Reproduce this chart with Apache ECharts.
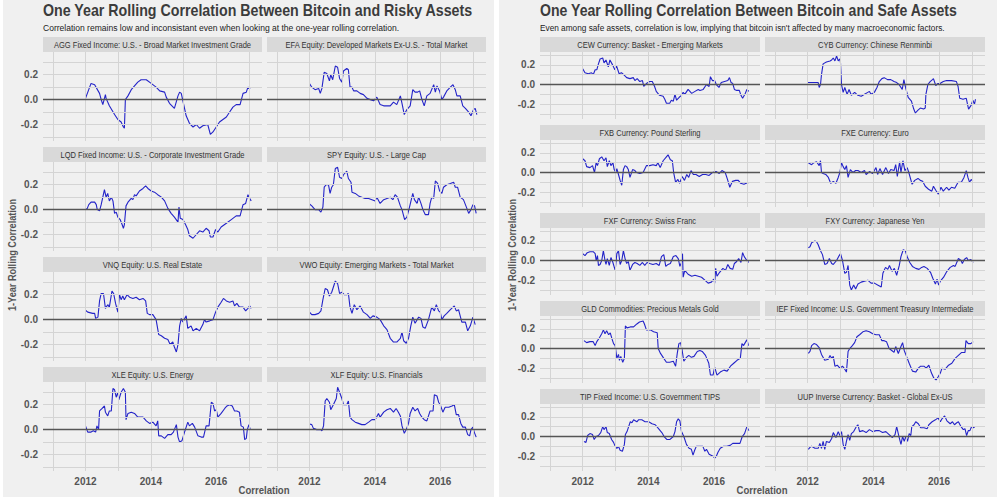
<!DOCTYPE html>
<html><head><meta charset="utf-8">
<script src="https://cdn.jsdelivr.net/npm/echarts@6/dist/echarts.min.js"></script>
<style>html,body{margin:0;padding:0;background:#fff}#c{width:1000px;height:501px}</style>
</head><body><div id="c"></div>
<script>
// ---------- DATA ----------
const riskyTitles = [
  'AGG Fixed Income: U.S. - Broad Market Investment Grade',
  'EFA Equity: Developed Markets Ex-U.S. - Total Market',
  'LQD Fixed Income: U.S. - Corporate Investment Grade',
  'SPY Equity: U.S. - Large Cap',
  'VNQ Equity: U.S. Real Estate',
  'VWO Equity: Emerging Markets - Total Market',
  'XLE Equity: U.S. Energy',
  'XLF Equity: U.S. Financials'
];
const safeTitles = [
  'CEW Currency: Basket - Emerging Markets',
  'CYB Currency: Chinese Renminbi',
  'FXB Currency: Pound Sterling',
  'FXE Currency: Euro',
  'FXF Currency: Swiss Franc',
  'FXY Currency: Japanese Yen',
  'GLD Commodities: Precious Metals Gold',
  'IEF Fixed Income: U.S. Government Treasury Intermediate',
  'TIP Fixed Income: U.S. Government TIPS',
  'UUP Inverse Currency: Basket - Global Ex-US'
];
const xTickLabels = [2012, 2014, 2016];
const yTickLabels = [-0.2, 0, 0.2];
const xGridYears = [2011, 2012, 2013, 2014, 2015, 2016, 2017];
const yGridValues = [-0.3, -0.2, -0.1, 0.1, 0.2, 0.3];

const AGG = [[2012.00,0.01],[2012.17,0.13],[2012.28,0.12],[2012.43,0.05],[2012.48,0.0],[2012.53,-0.04],[2012.61,0.04],[2012.63,0.01],[2012.73,-0.05],[2012.89,-0.12],[2012.99,-0.16],[2013.09,-0.18],[2013.16,-0.22],[2013.19,-0.23],[2013.22,0.0],[2013.30,0.03],[2013.40,0.08],[2013.50,0.11],[2013.60,0.14],[2013.70,0.16],[2013.86,0.16],[2014.01,0.13],[2014.16,0.10],[2014.27,0.07],[2014.42,0.06],[2014.47,0.02],[2014.57,-0.03],[2014.72,-0.07],[2014.83,0.03],[2014.88,0.06],[2014.93,0.05],[2015.03,-0.07],[2015.08,-0.13],[2015.18,-0.19],[2015.29,-0.22],[2015.39,-0.20],[2015.49,-0.23],[2015.59,-0.21],[2015.74,-0.20],[2015.82,-0.28],[2015.90,-0.26],[2016.00,-0.22],[2016.10,-0.18],[2016.31,-0.14],[2016.41,-0.10],[2016.51,-0.06],[2016.61,-0.04],[2016.73,-0.04],[2016.82,0.05],[2016.92,0.06],[2016.97,0.10],[2017.04,0.09]];
const EFA = [[2012.00,0.13],[2012.07,0.10],[2012.17,0.08],[2012.28,0.09],[2012.33,0.05],[2012.38,0.09],[2012.45,0.22],[2012.53,0.21],[2012.61,0.15],[2012.65,0.20],[2012.71,0.16],[2012.79,0.27],[2012.86,0.26],[2012.92,0.17],[2012.99,0.14],[2013.04,0.23],[2013.14,0.25],[2013.19,0.24],[2013.24,0.10],[2013.30,0.10],[2013.35,0.07],[2013.45,0.07],[2013.55,0.05],[2013.65,0.04],[2013.76,0.01],[2013.86,0.0],[2013.96,-0.01],[2014.06,0.02],[2014.16,-0.04],[2014.27,-0.05],[2014.37,-0.05],[2014.47,-0.05],[2014.57,-0.02],[2014.67,-0.04],[2014.78,0.03],[2014.83,-0.03],[2014.90,-0.12],[2014.98,-0.08],[2015.08,-0.05],[2015.16,0.08],[2015.23,0.06],[2015.31,0.06],[2015.37,0.07],[2015.44,0.0],[2015.51,-0.05],[2015.59,0.03],[2015.69,0.05],[2015.80,0.12],[2015.85,0.06],[2015.90,0.11],[2015.98,0.07],[2016.05,0.0],[2016.10,0.02],[2016.20,0.07],[2016.31,0.10],[2016.39,0.12],[2016.46,0.08],[2016.51,0.03],[2016.61,0.03],[2016.69,-0.05],[2016.77,-0.07],[2016.87,-0.10],[2016.94,-0.13],[2017.02,-0.08],[2017.07,-0.07],[2017.12,-0.12]];
const LQD = [[2012.00,0.01],[2012.04,0.0],[2012.10,0.04],[2012.17,0.06],[2012.28,0.06],[2012.33,0.04],[2012.36,0.0],[2012.43,-0.01],[2012.48,0.04],[2012.53,0.10],[2012.58,0.16],[2012.63,0.10],[2012.68,0.13],[2012.73,0.07],[2012.79,0.10],[2012.84,0.07],[2012.89,-0.03],[2012.94,-0.02],[2012.99,-0.06],[2013.06,-0.08],[2013.12,-0.12],[2013.16,-0.15],[2013.19,-0.12],[2013.24,0.03],[2013.30,0.06],[2013.40,0.09],[2013.45,0.08],[2013.50,0.12],[2013.55,0.11],[2013.65,0.15],[2013.76,0.17],[2013.84,0.19],[2013.91,0.17],[2014.01,0.15],[2014.11,0.14],[2014.21,0.12],[2014.32,0.10],[2014.42,0.07],[2014.52,0.01],[2014.62,-0.03],[2014.72,-0.06],[2014.83,-0.10],[2014.86,0.02],[2014.90,-0.07],[2014.98,-0.08],[2015.06,-0.12],[2015.13,-0.16],[2015.18,-0.21],[2015.29,-0.23],[2015.39,-0.20],[2015.49,-0.17],[2015.59,-0.18],[2015.69,-0.15],[2015.78,-0.17],[2015.82,-0.22],[2015.90,-0.22],[2015.98,-0.16],[2016.05,-0.18],[2016.15,-0.14],[2016.31,-0.11],[2016.46,-0.08],[2016.61,-0.05],[2016.73,-0.05],[2016.82,0.04],[2016.90,0.05],[2016.97,0.12],[2017.02,0.09],[2017.07,0.07]];
const SPY = [[2012.00,0.045],[2012.07,0.03],[2012.17,0.0],[2012.28,0.0],[2012.35,-0.02],[2012.41,0.02],[2012.45,0.18],[2012.51,0.20],[2012.58,0.20],[2012.63,0.13],[2012.68,0.18],[2012.73,0.20],[2012.79,0.33],[2012.86,0.34],[2012.92,0.26],[2012.99,0.25],[2013.04,0.28],[2013.14,0.31],[2013.19,0.25],[2013.27,0.22],[2013.30,0.14],[2013.40,0.13],[2013.50,0.11],[2013.60,0.10],[2013.70,0.09],[2013.81,0.09],[2013.91,0.08],[2014.01,0.07],[2014.06,0.10],[2014.16,0.05],[2014.27,0.08],[2014.37,0.09],[2014.47,0.10],[2014.55,0.08],[2014.62,0.12],[2014.69,0.10],[2014.78,0.03],[2014.83,0.0],[2014.91,-0.08],[2014.98,-0.06],[2015.06,0.02],[2015.16,0.13],[2015.21,0.08],[2015.29,0.05],[2015.34,0.10],[2015.41,0.05],[2015.47,0.0],[2015.54,-0.04],[2015.64,-0.04],[2015.69,0.05],[2015.74,0.10],[2015.80,0.09],[2015.85,0.23],[2015.92,0.21],[2015.98,0.15],[2016.05,0.13],[2016.10,0.18],[2016.20,0.20],[2016.31,0.21],[2016.41,0.22],[2016.46,0.18],[2016.53,0.18],[2016.61,0.10],[2016.71,0.08],[2016.80,0.02],[2016.87,-0.03],[2016.94,0.0],[2017.00,0.04],[2017.05,0.03],[2017.10,-0.03]];
const VNQ = [[2012.00,0.075],[2012.07,0.06],[2012.22,0.05],[2012.28,0.05],[2012.31,0.01],[2012.38,0.02],[2012.43,0.15],[2012.48,0.21],[2012.55,0.21],[2012.61,0.09],[2012.68,0.12],[2012.73,0.10],[2012.81,0.23],[2012.86,0.21],[2012.92,0.13],[2012.99,0.06],[2013.04,0.20],[2013.09,0.16],[2013.14,0.19],[2013.19,0.16],[2013.27,0.20],[2013.35,0.18],[2013.45,0.17],[2013.55,0.18],[2013.65,0.16],[2013.76,0.17],[2013.84,0.15],[2013.89,0.05],[2013.96,0.04],[2014.06,0.04],[2014.16,0.0],[2014.24,-0.12],[2014.32,-0.13],[2014.42,-0.15],[2014.52,-0.16],[2014.59,-0.20],[2014.67,-0.18],[2014.72,-0.22],[2014.78,-0.26],[2014.83,-0.20],[2014.88,-0.05],[2014.93,0.01],[2014.98,-0.02],[2015.08,0.03],[2015.13,-0.07],[2015.23,-0.05],[2015.29,-0.09],[2015.39,-0.07],[2015.49,-0.09],[2015.59,-0.04],[2015.64,0.0],[2015.69,-0.02],[2015.80,-0.01],[2015.90,0.0],[2015.98,0.06],[2016.05,0.10],[2016.15,0.14],[2016.22,0.17],[2016.31,0.15],[2016.41,0.14],[2016.51,0.15],[2016.56,0.11],[2016.63,0.13],[2016.71,0.10],[2016.82,0.10],[2016.90,0.07],[2016.97,0.09],[2017.02,0.11],[2017.07,0.09]];
const VWO = [[2012.00,0.06],[2012.07,0.04],[2012.17,0.04],[2012.28,0.05],[2012.35,0.07],[2012.41,0.16],[2012.48,0.25],[2012.55,0.24],[2012.61,0.19],[2012.68,0.22],[2012.79,0.31],[2012.86,0.29],[2012.92,0.21],[2012.99,0.22],[2013.06,0.20],[2013.14,0.20],[2013.19,0.21],[2013.24,0.10],[2013.30,0.05],[2013.37,0.12],[2013.45,0.08],[2013.55,0.11],[2013.65,0.06],[2013.76,0.04],[2013.86,0.01],[2013.94,0.03],[2014.06,0.02],[2014.16,0.0],[2014.27,-0.05],[2014.37,-0.08],[2014.47,-0.15],[2014.57,-0.18],[2014.67,-0.18],[2014.78,-0.15],[2014.83,-0.10],[2014.88,-0.17],[2014.96,-0.19],[2015.03,-0.15],[2015.10,-0.05],[2015.16,0.02],[2015.23,-0.03],[2015.34,0.02],[2015.41,0.01],[2015.47,-0.06],[2015.54,-0.07],[2015.64,0.0],[2015.69,0.05],[2015.74,0.10],[2015.82,0.07],[2015.88,0.12],[2015.95,0.07],[2016.00,0.06],[2016.05,0.0],[2016.12,0.03],[2016.20,0.05],[2016.31,0.08],[2016.43,0.11],[2016.49,0.07],[2016.56,0.08],[2016.66,-0.02],[2016.77,-0.02],[2016.84,-0.09],[2016.92,-0.05],[2017.00,0.02],[2017.07,-0.04]];
const XLE = [[2012.00,0.03],[2012.07,-0.02],[2012.17,-0.02],[2012.24,-0.01],[2012.31,-0.02],[2012.35,0.03],[2012.40,0.0],[2012.43,0.15],[2012.51,0.17],[2012.58,0.19],[2012.61,0.14],[2012.68,0.11],[2012.73,0.15],[2012.79,0.15],[2012.84,0.33],[2012.89,0.32],[2012.94,0.26],[2012.99,0.30],[2013.02,0.24],[2013.09,0.30],[2013.16,0.33],[2013.22,0.30],[2013.24,0.08],[2013.30,0.13],[2013.40,0.14],[2013.50,0.13],[2013.60,0.10],[2013.76,0.10],[2013.86,0.07],[2013.96,0.05],[2014.06,0.06],[2014.16,0.03],[2014.21,0.07],[2014.24,-0.05],[2014.32,-0.05],[2014.42,-0.07],[2014.52,-0.04],[2014.62,-0.04],[2014.69,-0.02],[2014.78,0.04],[2014.83,-0.06],[2014.88,-0.10],[2014.95,-0.09],[2015.03,-0.02],[2015.13,0.06],[2015.18,0.03],[2015.27,0.05],[2015.34,0.02],[2015.44,-0.05],[2015.54,-0.06],[2015.61,-0.06],[2015.69,0.03],[2015.78,0.03],[2015.85,0.22],[2015.90,0.21],[2015.95,0.15],[2016.00,0.16],[2016.05,0.10],[2016.15,0.13],[2016.26,0.17],[2016.33,0.19],[2016.41,0.20],[2016.49,0.19],[2016.56,0.15],[2016.63,0.15],[2016.71,0.14],[2016.76,0.03],[2016.83,0.02],[2016.87,-0.08],[2016.92,-0.07],[2016.95,0.0],[2017.00,0.04],[2017.04,0.0]];
const XLF = [[2012.00,0.045],[2012.07,0.04],[2012.12,0.01],[2012.22,0.0],[2012.35,0.0],[2012.38,-0.01],[2012.43,0.03],[2012.48,0.23],[2012.53,0.25],[2012.61,0.22],[2012.65,0.16],[2012.73,0.20],[2012.82,0.25],[2012.86,0.34],[2012.92,0.30],[2012.99,0.25],[2013.04,0.20],[2013.14,0.20],[2013.19,0.23],[2013.24,0.10],[2013.30,0.08],[2013.40,0.06],[2013.50,0.05],[2013.60,0.04],[2013.70,0.04],[2013.81,0.06],[2013.91,0.08],[2014.01,0.08],[2014.11,0.13],[2014.16,0.10],[2014.27,0.14],[2014.37,0.16],[2014.47,0.17],[2014.57,0.14],[2014.65,0.17],[2014.72,0.14],[2014.78,0.11],[2014.83,0.03],[2014.90,-0.03],[2014.96,0.0],[2015.03,0.05],[2015.08,0.13],[2015.16,0.18],[2015.23,0.15],[2015.31,0.17],[2015.37,0.13],[2015.44,0.10],[2015.51,0.08],[2015.59,0.07],[2015.69,0.15],[2015.78,0.15],[2015.82,0.28],[2015.90,0.27],[2015.95,0.22],[2016.00,0.20],[2016.08,0.14],[2016.15,0.18],[2016.26,0.18],[2016.36,0.19],[2016.43,0.20],[2016.49,0.12],[2016.56,0.12],[2016.63,0.05],[2016.69,0.02],[2016.77,0.02],[2016.84,-0.04],[2016.90,-0.05],[2016.94,0.0],[2017.00,0.02],[2017.04,-0.02],[2017.10,-0.06]];

const CEW = [[2012.00,0.16],[2012.07,0.12],[2012.17,0.11],[2012.27,0.12],[2012.32,0.10],[2012.38,0.15],[2012.43,0.15],[2012.48,0.21],[2012.53,0.26],[2012.61,0.27],[2012.65,0.22],[2012.71,0.25],[2012.78,0.18],[2012.83,0.25],[2012.91,0.20],[2012.98,0.15],[2013.03,0.19],[2013.11,0.11],[2013.18,0.12],[2013.25,0.10],[2013.34,0.07],[2013.44,0.06],[2013.54,0.07],[2013.59,0.04],[2013.66,0.06],[2013.74,0.03],[2013.82,0.04],[2013.86,-0.02],[2013.94,0.01],[2014.04,0.03],[2014.12,0.03],[2014.19,-0.02],[2014.24,-0.07],[2014.34,-0.11],[2014.45,-0.12],[2014.50,-0.15],[2014.55,-0.19],[2014.65,-0.19],[2014.70,-0.16],[2014.76,-0.17],[2014.81,-0.10],[2014.86,-0.16],[2014.94,-0.13],[2015.01,-0.11],[2015.06,-0.08],[2015.11,-0.10],[2015.21,-0.05],[2015.32,-0.09],[2015.42,-0.07],[2015.52,-0.05],[2015.57,-0.06],[2015.67,-0.05],[2015.77,0.0],[2015.85,-0.02],[2015.89,0.08],[2015.95,0.04],[2016.02,0.04],[2016.07,0.0],[2016.15,-0.03],[2016.22,0.02],[2016.32,0.03],[2016.42,0.04],[2016.47,0.07],[2016.52,0.02],[2016.57,0.01],[2016.62,-0.05],[2016.69,-0.06],[2016.77,-0.06],[2016.82,-0.11],[2016.87,-0.14],[2016.94,-0.10],[2017.00,-0.05],[2017.06,-0.07]];
const CYB = [[2012.00,0.02],[2012.17,0.02],[2012.32,0.02],[2012.35,-0.03],[2012.39,0.0],[2012.42,0.10],[2012.47,0.21],[2012.57,0.23],[2012.68,0.24],[2012.73,0.25],[2012.78,0.27],[2012.83,0.24],[2012.88,0.29],[2012.93,0.24],[2012.98,0.26],[2013.00,0.22],[2013.03,0.0],[2013.08,-0.08],[2013.13,-0.03],[2013.20,-0.10],[2013.26,-0.05],[2013.33,-0.11],[2013.43,-0.08],[2013.53,-0.11],[2013.63,-0.12],[2013.73,-0.10],[2013.83,-0.08],[2013.88,-0.07],[2013.93,-0.10],[2014.03,-0.08],[2014.11,-0.03],[2014.18,0.03],[2014.26,0.06],[2014.33,0.07],[2014.43,0.05],[2014.53,0.05],[2014.63,0.03],[2014.71,0.02],[2014.78,0.0],[2014.88,-0.05],[2014.93,0.05],[2014.98,-0.03],[2015.06,-0.13],[2015.16,-0.17],[2015.23,-0.25],[2015.28,-0.29],[2015.36,-0.26],[2015.43,-0.24],[2015.53,-0.25],[2015.58,-0.24],[2015.60,-0.10],[2015.66,0.0],[2015.73,0.03],[2015.80,0.05],[2015.83,0.06],[2015.90,-0.01],[2015.96,0.01],[2016.03,0.01],[2016.13,0.03],[2016.23,0.04],[2016.38,0.04],[2016.53,0.03],[2016.58,-0.02],[2016.63,-0.14],[2016.73,-0.15],[2016.83,-0.14],[2016.86,-0.19],[2016.90,-0.25],[2016.98,-0.21],[2017.03,-0.16],[2017.08,-0.20],[2017.11,-0.15]];
const FXB = [[2012.00,0.14],[2012.07,0.12],[2012.12,0.06],[2012.22,0.05],[2012.30,0.07],[2012.36,0.0],[2012.41,0.10],[2012.45,0.07],[2012.51,0.14],[2012.58,0.16],[2012.65,0.12],[2012.71,0.15],[2012.75,0.06],[2012.81,0.12],[2012.86,0.07],[2012.92,0.10],[2012.96,0.03],[2013.01,0.0],[2013.04,0.04],[2013.09,-0.02],[2013.14,-0.08],[2013.19,-0.13],[2013.24,0.03],[2013.29,0.07],[2013.34,0.06],[2013.39,0.03],[2013.44,-0.05],[2013.52,0.03],[2013.59,0.02],[2013.64,0.0],[2013.74,-0.01],[2013.84,0.0],[2013.94,0.07],[2014.04,0.07],[2014.14,0.08],[2014.24,0.07],[2014.29,0.10],[2014.36,0.05],[2014.45,0.12],[2014.55,0.16],[2014.60,0.18],[2014.67,0.13],[2014.73,0.12],[2014.77,0.0],[2014.83,-0.10],[2014.90,-0.07],[2014.95,-0.11],[2015.03,-0.04],[2015.10,-0.08],[2015.17,-0.02],[2015.23,-0.05],[2015.30,0.02],[2015.37,-0.02],[2015.45,-0.02],[2015.55,-0.04],[2015.65,-0.02],[2015.75,-0.02],[2015.85,-0.03],[2015.95,0.0],[2016.06,0.01],[2016.16,-0.01],[2016.24,0.02],[2016.34,0.0],[2016.41,-0.07],[2016.48,-0.15],[2016.56,-0.09],[2016.66,-0.08],[2016.74,-0.08],[2016.81,-0.11],[2016.91,-0.12],[2016.98,-0.11],[2017.04,-0.11]];
const FXE = [[2012.02,0.10],[2012.12,0.08],[2012.19,0.10],[2012.27,0.11],[2012.35,0.07],[2012.39,0.12],[2012.42,0.0],[2012.47,-0.01],[2012.55,-0.02],[2012.63,-0.05],[2012.70,-0.11],[2012.78,-0.09],[2012.86,-0.11],[2012.93,-0.05],[2012.98,0.0],[2013.03,0.10],[2013.08,0.06],[2013.13,0.03],[2013.18,0.07],[2013.23,-0.05],[2013.30,0.03],[2013.38,0.0],[2013.46,0.02],[2013.53,0.02],[2013.63,0.0],[2013.73,0.02],[2013.78,-0.02],[2013.88,0.01],[2013.98,-0.01],[2014.08,0.05],[2014.13,-0.02],[2014.20,0.04],[2014.28,-0.02],[2014.38,0.05],[2014.46,-0.01],[2014.53,0.03],[2014.63,0.02],[2014.68,0.08],[2014.73,-0.04],[2014.80,0.11],[2014.84,0.0],[2014.90,0.12],[2014.96,0.02],[2015.03,0.05],[2015.08,0.0],[2015.18,-0.12],[2015.26,-0.08],[2015.36,-0.06],[2015.43,-0.08],[2015.50,-0.09],[2015.58,-0.14],[2015.68,-0.17],[2015.78,-0.19],[2015.83,-0.14],[2015.90,-0.18],[2015.98,-0.22],[2016.06,-0.15],[2016.13,-0.19],[2016.23,-0.15],[2016.30,-0.18],[2016.38,-0.15],[2016.48,-0.16],[2016.58,-0.10],[2016.68,-0.10],[2016.76,-0.05],[2016.83,0.02],[2016.88,-0.05],[2016.93,-0.10],[2016.98,-0.07],[2017.03,-0.09]];
const FXF = [[2012.00,0.07],[2012.07,0.05],[2012.14,0.08],[2012.22,0.09],[2012.32,0.09],[2012.38,0.07],[2012.41,0.0],[2012.45,0.05],[2012.48,-0.05],[2012.53,-0.04],[2012.58,0.0],[2012.63,0.10],[2012.68,0.0],[2012.71,-0.04],[2012.75,0.02],[2012.81,-0.05],[2012.86,0.03],[2012.92,-0.02],[2012.99,-0.10],[2013.04,0.07],[2013.09,0.10],[2013.14,-0.04],[2013.19,0.0],[2013.24,0.10],[2013.29,0.02],[2013.34,-0.03],[2013.39,-0.01],[2013.44,-0.10],[2013.52,-0.04],[2013.59,-0.02],[2013.66,-0.03],[2013.74,-0.05],[2013.82,-0.02],[2013.89,-0.05],[2013.96,-0.02],[2014.04,-0.03],[2014.14,-0.04],[2014.24,-0.03],[2014.33,-0.05],[2014.40,0.04],[2014.47,0.06],[2014.53,-0.06],[2014.60,-0.04],[2014.67,-0.03],[2014.76,0.04],[2014.84,0.05],[2014.91,0.02],[2014.96,-0.06],[2015.01,-0.02],[2015.04,0.07],[2015.06,-0.17],[2015.11,-0.10],[2015.21,-0.14],[2015.32,-0.16],[2015.42,-0.15],[2015.52,-0.16],[2015.62,-0.17],[2015.72,-0.20],[2015.82,-0.23],[2015.92,-0.22],[2015.99,-0.19],[2016.02,-0.23],[2016.05,-0.08],[2016.09,-0.16],[2016.17,-0.12],[2016.27,-0.08],[2016.35,-0.10],[2016.42,-0.04],[2016.49,-0.08],[2016.57,-0.09],[2016.62,-0.03],[2016.69,-0.01],[2016.75,0.02],[2016.82,-0.02],[2016.87,0.08],[2016.92,0.04],[2017.00,0.0],[2017.06,-0.02]];
const FXY = [[2012.02,0.13],[2012.07,0.14],[2012.12,0.18],[2012.22,0.20],[2012.27,0.19],[2012.32,0.16],[2012.39,0.10],[2012.45,0.06],[2012.52,-0.04],[2012.59,-0.03],[2012.66,0.02],[2012.73,-0.03],[2012.78,-0.04],[2012.88,0.0],[2012.96,0.05],[2013.00,0.07],[2013.06,0.0],[2013.13,-0.13],[2013.18,-0.12],[2013.23,-0.05],[2013.28,-0.25],[2013.33,-0.30],[2013.40,-0.25],[2013.46,-0.29],[2013.53,-0.24],[2013.63,-0.22],[2013.73,-0.21],[2013.83,-0.20],[2013.93,-0.23],[2014.03,-0.23],[2014.13,-0.25],[2014.24,-0.27],[2014.29,-0.13],[2014.37,-0.07],[2014.44,-0.09],[2014.49,-0.05],[2014.57,-0.11],[2014.64,-0.08],[2014.71,-0.15],[2014.79,-0.05],[2014.84,0.04],[2014.91,0.11],[2014.97,0.10],[2015.04,0.03],[2015.11,-0.02],[2015.19,-0.06],[2015.29,-0.08],[2015.39,-0.09],[2015.47,-0.07],[2015.54,-0.06],[2015.64,-0.08],[2015.74,-0.12],[2015.81,-0.18],[2015.89,-0.24],[2015.94,-0.19],[2015.99,-0.25],[2016.04,-0.21],[2016.14,-0.17],[2016.24,-0.11],[2016.34,-0.07],[2016.44,-0.05],[2016.49,-0.06],[2016.54,-0.02],[2016.59,0.02],[2016.67,0.0],[2016.71,-0.03],[2016.77,0.01],[2016.84,0.03],[2016.89,0.0],[2016.97,0.01],[2017.04,-0.02]];
const GLD = [[2012.04,0.08],[2012.12,0.06],[2012.22,0.07],[2012.32,0.07],[2012.38,0.03],[2012.43,0.07],[2012.51,0.11],[2012.58,0.15],[2012.63,0.19],[2012.68,0.15],[2012.73,0.18],[2012.79,0.14],[2012.84,0.16],[2012.89,0.10],[2012.94,0.05],[2012.99,0.03],[2013.04,-0.10],[2013.09,-0.06],[2013.12,-0.12],[2013.16,-0.08],[2013.22,-0.14],[2013.27,-0.10],[2013.30,0.23],[2013.35,0.21],[2013.45,0.22],[2013.55,0.22],[2013.65,0.25],[2013.73,0.27],[2013.84,0.28],[2013.88,0.25],[2013.94,0.19],[2014.06,0.19],[2014.16,0.17],[2014.27,0.16],[2014.30,0.0],[2014.37,-0.05],[2014.47,-0.10],[2014.55,-0.14],[2014.65,-0.14],[2014.76,-0.13],[2014.83,-0.18],[2014.88,-0.05],[2014.93,0.05],[2014.98,0.06],[2015.03,-0.02],[2015.08,-0.13],[2015.16,-0.09],[2015.23,-0.07],[2015.31,-0.09],[2015.39,-0.08],[2015.49,-0.03],[2015.57,-0.02],[2015.64,-0.03],[2015.74,-0.07],[2015.84,-0.15],[2015.89,-0.27],[2015.97,-0.27],[2016.02,-0.19],[2016.09,-0.27],[2016.19,-0.24],[2016.30,-0.22],[2016.40,-0.23],[2016.50,-0.18],[2016.60,-0.15],[2016.70,-0.12],[2016.80,-0.10],[2016.85,0.05],[2016.90,0.03],[2016.95,0.06],[2017.00,0.09],[2017.05,0.03]];
const IEF = [[2012.02,-0.05],[2012.07,-0.03],[2012.12,0.03],[2012.19,0.05],[2012.27,0.04],[2012.35,0.01],[2012.42,-0.06],[2012.52,-0.12],[2012.63,-0.11],[2012.68,-0.07],[2012.73,-0.10],[2012.78,-0.08],[2012.83,-0.18],[2012.90,-0.17],[2012.98,-0.20],[2013.06,-0.18],[2013.13,-0.21],[2013.18,-0.24],[2013.23,-0.03],[2013.28,0.0],[2013.36,0.03],[2013.43,0.06],[2013.50,0.12],[2013.58,0.14],[2013.68,0.17],[2013.78,0.18],[2013.88,0.17],[2013.98,0.15],[2014.08,0.14],[2014.18,0.14],[2014.26,0.08],[2014.33,0.08],[2014.40,0.07],[2014.48,0.0],[2014.56,-0.02],[2014.63,-0.04],[2014.68,0.02],[2014.76,-0.05],[2014.84,0.02],[2014.89,0.06],[2014.94,-0.02],[2015.01,-0.08],[2015.09,-0.15],[2015.19,-0.23],[2015.29,-0.24],[2015.37,-0.20],[2015.44,-0.18],[2015.54,-0.18],[2015.61,-0.20],[2015.69,-0.17],[2015.77,-0.25],[2015.84,-0.30],[2015.91,-0.32],[2015.97,-0.29],[2016.04,-0.25],[2016.09,-0.20],[2016.19,-0.21],[2016.29,-0.17],[2016.39,-0.15],[2016.49,-0.10],[2016.59,-0.07],[2016.69,-0.04],[2016.79,-0.04],[2016.82,0.08],[2016.89,0.05],[2016.97,0.05],[2017.04,0.07]];
const TIP = [[2012.04,-0.05],[2012.10,-0.06],[2012.15,0.01],[2012.22,0.03],[2012.30,0.02],[2012.35,-0.03],[2012.41,0.0],[2012.48,0.01],[2012.55,0.04],[2012.61,0.10],[2012.65,0.07],[2012.71,0.10],[2012.75,0.04],[2012.81,0.03],[2012.88,-0.03],[2012.94,-0.06],[2012.99,-0.10],[2013.04,-0.12],[2013.09,-0.10],[2013.14,-0.14],[2013.21,-0.15],[2013.27,-0.08],[2013.30,0.02],[2013.35,0.05],[2013.40,0.10],[2013.45,0.15],[2013.50,0.14],[2013.55,0.17],[2013.65,0.15],[2013.70,0.17],[2013.80,0.17],[2013.90,0.15],[2014.01,0.15],[2014.11,0.13],[2014.21,0.12],[2014.31,0.08],[2014.41,0.04],[2014.48,0.0],[2014.56,-0.03],[2014.66,-0.03],[2014.76,0.0],[2014.81,0.05],[2014.86,0.15],[2014.91,0.18],[2014.96,0.16],[2015.01,0.05],[2015.08,0.0],[2015.16,-0.08],[2015.24,-0.12],[2015.31,-0.13],[2015.36,-0.19],[2015.41,-0.14],[2015.46,-0.10],[2015.56,-0.10],[2015.66,-0.10],[2015.72,-0.15],[2015.77,-0.13],[2015.85,-0.18],[2015.97,-0.20],[2016.02,-0.22],[2016.07,-0.20],[2016.12,-0.16],[2016.19,-0.12],[2016.29,-0.10],[2016.39,-0.10],[2016.49,-0.09],[2016.57,-0.07],[2016.69,-0.07],[2016.79,-0.07],[2016.86,0.0],[2016.93,0.03],[2017.00,0.10],[2017.06,0.06]];
const UUP = [[2012.02,-0.13],[2012.07,-0.11],[2012.12,-0.10],[2012.22,-0.12],[2012.32,-0.12],[2012.37,-0.07],[2012.42,-0.12],[2012.47,-0.05],[2012.52,-0.13],[2012.57,-0.05],[2012.66,-0.06],[2012.73,-0.02],[2012.78,0.04],[2012.86,-0.01],[2012.93,0.05],[2012.98,0.01],[2013.03,0.05],[2013.08,-0.08],[2013.13,-0.13],[2013.18,-0.05],[2013.23,0.02],[2013.28,-0.04],[2013.33,0.03],[2013.40,0.05],[2013.48,0.10],[2013.53,0.12],[2013.58,0.05],[2013.68,0.06],[2013.78,0.04],[2013.88,0.07],[2013.98,0.05],[2014.08,0.06],[2014.18,0.06],[2014.28,0.04],[2014.38,0.05],[2014.48,0.02],[2014.58,-0.01],[2014.66,0.02],[2014.71,0.10],[2014.78,0.0],[2014.84,-0.08],[2014.89,0.0],[2014.94,-0.05],[2014.99,0.0],[2015.04,-0.05],[2015.09,0.03],[2015.14,0.01],[2015.17,0.10],[2015.24,0.12],[2015.29,0.15],[2015.37,0.13],[2015.44,0.09],[2015.54,0.09],[2015.64,0.08],[2015.69,0.12],[2015.79,0.15],[2015.89,0.17],[2015.97,0.19],[2016.04,0.15],[2016.09,0.18],[2016.17,0.21],[2016.24,0.16],[2016.34,0.13],[2016.41,0.15],[2016.47,0.12],[2016.54,0.14],[2016.59,0.15],[2016.67,0.10],[2016.74,0.07],[2016.79,0.08],[2016.84,0.01],[2016.89,0.06],[2016.94,0.06],[2016.99,0.10],[2017.04,0.09],[2017.09,0.10]];

const riskySeries = [AGG, EFA, LQD, SPY, VNQ, VWO, XLE, XLF];
const safeSeries = [CEW, CYB, FXB, FXE, FXF, FXY, GLD, IEF, TIP, UUP];

// ---------- LAYOUT ----------
const FONT = '"Liberation Sans", Arial, sans-serif';
const LINE_COLOR = '#2323c8';
const panels = [
  {titles: riskyTitles, series: riskySeries, cols: [43, 267], colW: 219, top0: 52, pitch: 110, h: 89, yMin: -0.3325, yMax: 0.3825},
  {titles: safeTitles, series: safeSeries, cols: [540, 765], colW: 220, top0: 52, pitch: 88, h: 67, yMin: -0.351, yMax: 0.331}
];

const grid = [], xAxis = [], yAxis = [], series = [], graphic = [];
graphic.push({type:'rect', shape:{x:3,y:0,width:491,height:497}, style:{fill:'#f0f0f0'}, z:-10, silent:true});
graphic.push({type:'rect', shape:{x:499,y:0,width:498,height:497}, style:{fill:'#f0f0f0'}, z:-10, silent:true});

function txt(x, y, text, size, weight, color, align, scaleX, rot) {
  return {type:'text', x:x, y:y, scaleX: scaleX || 1, rotation: rot || 0, silent:true, z:10,
    style:{text:text, fontSize:size, fontWeight:weight, fontFamily:FONT, fill:color,
      textAlign:align, textVerticalAlign:'middle', align:align, verticalAlign:'middle'}};
}

let gi = 0;
panels.forEach(function(p) {
  const rows = Math.ceil(p.titles.length / 2);
  p.titles.forEach(function(title, k) {
    const r = Math.floor(k / 2), c = k % 2;
    const left = p.cols[c], top = p.top0 + r * p.pitch;
    grid.push({left:left, top:top, width:p.colW, height:p.h, containLabel:false});
    graphic.push({type:'rect', shape:{x:left, y:top-15, width:p.colW, height:15}, style:{fill:'#d9d9d9'}, silent:true, z:5});
    graphic.push(txt(left + p.colW/2, top - 7.5, title, 9, 'normal', '#333333', 'center', 0.84));
    const bottom = (r === rows - 1);
    xAxis.push({type:'value', gridIndex:gi, min:2010.7, max:2017.4,
      axisLine:{show:false}, axisTick:{show:false}, splitLine:{show:false},
      axisLabel:{show:bottom, customValues:xTickLabels, fontSize:10, fontWeight:'bold', color:'#555555', fontFamily:FONT, margin:5, formatter:function(v){return String(v);}}});
    yAxis.push({type:'value', gridIndex:gi, min:p.yMin, max:p.yMax,
      axisLine:{show:false}, axisTick:{show:false}, splitLine:{show:false},
      axisLabel:{show:c === 0, customValues:yTickLabels, fontSize:10, fontWeight:'bold', color:'#555555', fontFamily:FONT, margin:5, formatter:function(v){return v.toFixed(1);}}});
    const ml = [];
    xGridYears.forEach(function(v){ ml.push({xAxis:v, lineStyle:{color:'#d4d4d4', width:1, type:'solid'}}); });
    yGridValues.forEach(function(v){ ml.push({yAxis:v, lineStyle:{color:'#d4d4d4', width:1, type:'solid'}}); });
    ml.push({yAxis:0, lineStyle:{color:'#555555', width:1.3, type:'solid'}});
    series.push({type:'line', xAxisIndex:gi, yAxisIndex:gi, data:[], silent:true, z:1,
      markLine:{silent:true, symbol:['none','none'], label:{show:false}, animation:false, data:ml}});
    series.push({type:'line', xAxisIndex:gi, yAxisIndex:gi, data:p.series[k], showSymbol:false, symbol:'none',
      lineStyle:{color:LINE_COLOR, width:1.1}, z:3, silent:true, animation:false});
    gi++;
  });
});

graphic.push(txt(43, 10, 'One Year Rolling Correlation Between Bitcoin and Risky Assets', 16, 'bold', '#3c3c3c', 'left', 0.89));
graphic.push(txt(43, 27.5, 'Correlation remains low and inconsistant even when looking at the one-year rolling correlation.', 9.5, 'normal', '#222222', 'left', 0.9));
graphic.push(txt(540, 10, 'One Year Rolling Correlation Between Bitcoin and Safe Assets', 16, 'bold', '#3c3c3c', 'left', 0.88));
graphic.push(txt(540, 27.5, 'Even among safe assets, correlation is low, implying that bitcoin isn\'t affected by many macroeconomic factors.', 9.5, 'normal', '#222222', 'left', 0.87));
graphic.push(txt(264, 490, 'Correlation', 11, 'bold', '#555555', 'center', 0.87));
graphic.push(txt(762, 490, 'Correlation', 11, 'bold', '#555555', 'center', 0.87));
graphic.push(txt(12, 255, '1-Year Rolling Correlation', 10.5, 'bold', '#555555', 'center', 0.87, Math.PI/2));
graphic.push(txt(512, 255, '1-Year Rolling Correlation', 10.5, 'bold', '#555555', 'center', 0.87, Math.PI/2));

const chart = echarts.init(document.getElementById('c'), null, {renderer:'svg'});
chart.setOption({animation:false, backgroundColor:'#ffffff', grid:grid, xAxis:xAxis, yAxis:yAxis, series:series, graphic:graphic});
</script></body></html>
